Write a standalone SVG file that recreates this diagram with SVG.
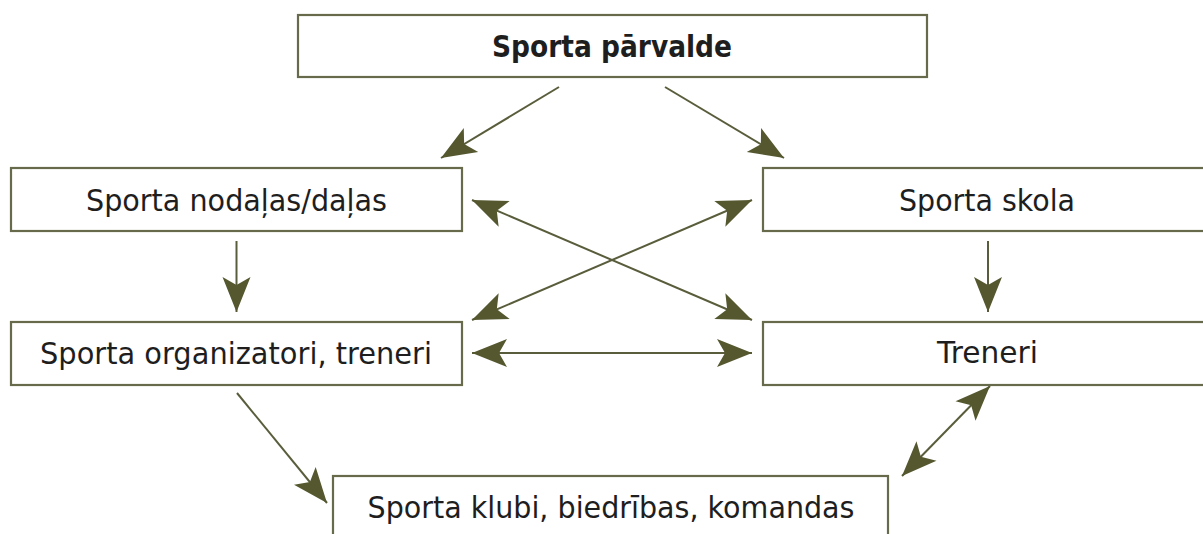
<svg xmlns="http://www.w3.org/2000/svg" width="1203" height="534" viewBox="0 0 1203 534">
<style>
.box{fill:#fff;stroke:#676a4b;stroke-width:2.2}
.t{font-family:"DejaVu Sans","Liberation Sans",sans-serif;font-size:30px;fill:#1e1e1e;text-anchor:middle}
.b{font-weight:bold}
.c{stroke:#5a5d3b;stroke-width:2;fill:none}
</style>
<defs>
<marker id="ah" markerUnits="userSpaceOnUse" markerWidth="40" markerHeight="32" viewBox="-38 -16 40 32" refX="0" refY="0" orient="auto-start-reverse">
<path d="M0,0 L-35,-14 L-27,0 L-35,14 Z" fill="#55582f"/>
</marker>
</defs>
<rect width="1203" height="534" fill="#fff"/>
<g id="connectors">
<line class="c" x1="559" y1="87" x2="441" y2="158" marker-end="url(#ah)"/>
<line class="c" x1="665" y1="87" x2="784" y2="158" marker-end="url(#ah)"/>
<line class="c" x1="472" y1="200" x2="752" y2="320" marker-start="url(#ah)" marker-end="url(#ah)"/>
<line class="c" x1="752" y1="200" x2="472" y2="320" marker-start="url(#ah)" marker-end="url(#ah)"/>
<line class="c" x1="472" y1="353" x2="752" y2="353" marker-start="url(#ah)" marker-end="url(#ah)"/>
<line class="c" x1="236.5" y1="241" x2="236.5" y2="312" marker-end="url(#ah)"/>
<line class="c" x1="988" y1="241" x2="988" y2="312" marker-end="url(#ah)"/>
<line class="c" x1="237" y1="393" x2="327" y2="503" marker-end="url(#ah)"/>
<line class="c" x1="990" y1="386" x2="902" y2="476" marker-start="url(#ah)" marker-end="url(#ah)"/>
</g>
<g id="n-parvalde">
<rect class="box" x="298" y="15" width="629" height="62"/>
<text class="t b" x="612" y="57" textLength="240" lengthAdjust="spacingAndGlyphs">Sporta pārvalde</text>
</g>
<g id="n-nodalas">
<rect class="box" x="11" y="168" width="451" height="63"/>
<text class="t" x="236.5" y="211" textLength="301" lengthAdjust="spacingAndGlyphs">Sporta nodaļas/daļas</text>
</g>
<g id="n-skola">
<rect class="box" x="763" y="168" width="460" height="63"/>
<text class="t" x="987" y="211" textLength="176" lengthAdjust="spacingAndGlyphs">Sporta skola</text>
</g>
<g id="n-organizatori">
<rect class="box" x="11" y="322" width="451" height="63"/>
<text class="t" x="236" y="364" textLength="392" lengthAdjust="spacingAndGlyphs">Sporta organizatori, treneri</text>
</g>
<g id="n-treneri">
<rect class="box" x="763" y="322" width="460" height="63"/>
<text class="t" x="987.5" y="363" textLength="101" lengthAdjust="spacingAndGlyphs">Treneri</text>
</g>
<g id="n-klubi">
<rect class="box" x="333" y="476" width="555" height="80"/>
<text class="t" x="611" y="518" textLength="487" lengthAdjust="spacingAndGlyphs">Sporta klubi, biedrības, komandas</text>
</g>
</svg>
